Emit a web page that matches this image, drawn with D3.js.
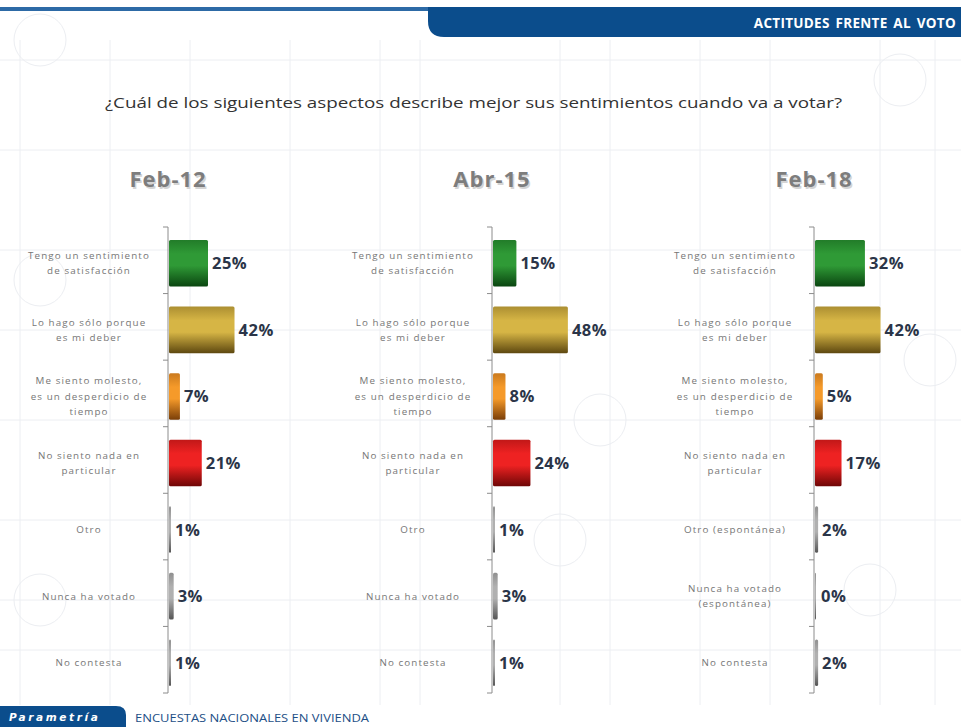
<!DOCTYPE html>
<html>
<head>
<meta charset="utf-8">
<script src="https://cdn.jsdelivr.net/npm/d3@7"></script>
<style>
  body { margin: 0; background: #fff; }
  svg { display: block; }
</style>
</head>
<body>
<svg width="961" height="727"></svg>
<script>
// chart data
const periods = ['Feb-12', 'Abr-15', 'Feb-18'];
const labelsA = [
  'Tengo un sentimiento|de satisfacción',
  'Lo hago sólo porque|es mi deber',
  'Me siento molesto,|es un desperdicio de|tiempo',
  'No siento nada en|particular',
  'Otro',
  'Nunca ha votado',
  'No contesta'
];
const labelsB = [
  'Tengo un sentimiento|de satisfacción',
  'Lo hago sólo porque|es mi deber',
  'Me siento molesto,|es un desperdicio de|tiempo',
  'No siento nada en|particular',
  'Otro (espontánea)',
  'Nunca ha votado|(espontánea)',
  'No contesta'
];
const feb12 = [25, 42, 7, 21, 1, 3, 1];
const abr15 = [15, 48, 8, 24, 1, 3, 1];
const feb18 = [32, 42, 5, 17, 2, 0, 2];

const panels = [
  { title: periods[0], labels: labelsA, values: feb12 },
  { title: periods[1], labels: labelsA, values: abr15 },
  { title: periods[2], labels: labelsB, values: feb18 }
];

// bar colours (light / dark pairs for the cylinder look)
const barColors = [
  ['#2f9a36', '#0a4510'],
  ['#d6b545', '#5e4810'],
  ['#f59a2a', '#7a3e08'],
  ['#ee2222', '#6e0606'],
  ['#b0b0b0', '#555555'],
  ['#b0b0b0', '#555555'],
  ['#b0b0b0', '#555555']
];

const svg = d3.select('svg');
const width = +svg.attr('width');
const height = +svg.attr('height');

// gradients
const defs = svg.append('defs');
barColors.forEach((c, i) => {
  const g = defs.append('linearGradient')
    .attr('id', 'grad' + i)
    .attr('x1', 0).attr('y1', 0).attr('x2', 0).attr('y2', 1);
  g.append('stop').attr('offset', '0%').attr('stop-color', d3.interpolateRgb(c[0], c[1])(0.35));
  g.append('stop').attr('offset', '30%').attr('stop-color', c[0]);
  g.append('stop').attr('offset', '55%').attr('stop-color', c[0]);
  g.append('stop').attr('offset', '100%').attr('stop-color', c[1]);
});

// faint watermark background
const bg = svg.append('g').attr('stroke', '#eceef2').attr('fill', 'none').attr('stroke-width', 1);
[20, 110, 190, 290, 380, 420, 560, 610, 700, 770, 880, 935].forEach(x => {
  bg.append('line').attr('x1', x).attr('x2', x).attr('y1', 40).attr('y2', 705);
});
[60, 150, 250, 330, 420, 520, 600, 650].forEach(y => {
  bg.append('line').attr('x1', 0).attr('x2', width).attr('y1', y).attr('y2', y);
});
[[40, 40], [900, 80], [40, 280], [930, 360], [870, 590], [40, 600], [560, 540], [600, 420]].forEach(p => {
  bg.append('circle').attr('cx', p[0]).attr('cy', p[1]).attr('r', 26);
});

// header
svg.append('rect').attr('x', 0).attr('y', 7).attr('width', 440).attr('height', 4).attr('fill', '#2d6aa6');
svg.append('path')
  .attr('d', 'M428,7 H961 V37 H444 Q428,37 428,21 Z')
  .attr('fill', '#0b4d8c');
svg.append('text')
  .text('ACTITUDES  FRENTE  AL VOTO')
  .attr('x', 956).attr('y', 28)
  .attr('text-anchor', 'end')
  .attr('fill', '#fff')
  .attr('font-family', 'Open Sans, sans-serif')
  .attr('font-weight', 'bold')
  .attr('font-size', 13.5)
  .style('letter-spacing', '0.3px')
  .style('word-spacing', '2px');

// question
svg.append('text')
  .text('¿Cuál de los siguientes aspectos describe mejor sus sentimientos cuando va a votar?')
  .attr('x', 105).attr('y', 108)
  .attr('fill', '#333')
  .attr('font-family', 'Open Sans, sans-serif')
  .attr('font-size', 15)
  .attr('textLength', 737)
  .attr('lengthAdjust', 'spacingAndGlyphs');

// scales
const axisTop = 227, axisBottom = 693;
const y = d3.scaleBand()
  .domain(d3.range(7))
  .range([axisTop, axisBottom])
  .paddingInner(0.3)
  .paddingOuter(0.15);
const x = d3.scaleLinear().domain([0, 50]).range([0, 78]);

const axisX = [168, 492, 814];

panels.forEach((p, pi) => {
  const g = svg.append('g').attr('transform', `translate(${axisX[pi]},0)`);

  // title with soft shadow
  [['#d4d4d4', 1.5, 1.5], ['#7d7d7d', 0, 0]].forEach(s => {
    g.append('text')
      .text(p.title)
      .attr('x', s[1]).attr('y', 187 + s[2])
      .attr('text-anchor', 'middle')
      .attr('fill', s[0])
      .attr('font-family', 'Open Sans, sans-serif')
      .attr('font-weight', 'bold')
      .attr('font-size', 22)
      .style('letter-spacing', '1px');
  });

  // axis line and ticks
  const step = (axisBottom - axisTop) / 7;
  g.append('line')
    .attr('x1', 0).attr('x2', 0)
    .attr('y1', axisTop).attr('y2', axisBottom)
    .attr('stroke', '#8c8c8c').attr('stroke-width', 1);
  g.selectAll('.tick').data(d3.range(8)).enter()
    .append('line')
    .attr('x1', -5).attr('x2', 0)
    .attr('y1', d => axisTop + d * step)
    .attr('y2', d => axisTop + d * step)
    .attr('stroke', '#8c8c8c');

  // bars
  g.selectAll('rect.bar').data(p.values).enter()
    .append('rect')
    .attr('class', 'bar')
    .attr('x', 1)
    .attr('y', (d, i) => y(i) + 3)
    .attr('width', d => Math.max(x(d), d === 0 ? 1 : 2))
    .attr('height', y.bandwidth())
    .attr('rx', 1.5)
    .attr('fill', (d, i) => `url(#grad${i})`);

  // value labels
  g.selectAll('text.val').data(p.values).enter()
    .append('text')
    .attr('class', 'val')
    .text(d => d + '%')
    .attr('x', d => Math.max(x(d), 2) + 5)
    .attr('y', (d, i) => y(i) + 3 + y.bandwidth() / 2)
    .attr('dy', '0.36em')
    .attr('fill', '#2b3548')
    .attr('font-family', 'Open Sans, sans-serif')
    .attr('font-weight', 'bold')
    .attr('font-size', 16.5)
    .style('letter-spacing', '0.5px');

  // category labels
  p.labels.forEach((lab, i) => {
    const lines = lab.split('|');
    const cy = y(i) + 3 + y.bandwidth() / 2;
    const lh = 15.5;
    const t = g.append('text')
      .attr('text-anchor', 'middle')
      .attr('fill', '#767676')
      .attr('font-family', 'Open Sans, sans-serif')
      .attr('font-size', 9.8)
      .style('letter-spacing', '1.1px');
    lines.forEach((ln, k) => {
      t.append('tspan')
        .text(ln)
        .attr('x', -79)
        .attr('y', cy + (k - (lines.length - 1) / 2) * lh)
        .attr('dy', '0.35em');
    });
  });
});

// footer
svg.append('path')
  .attr('d', 'M0,706 H116 Q126,706 126,715 V727 H0 Z')
  .attr('fill', '#0b4d8c');
svg.append('text')
  .text('Parametría')
  .attr('x', 9).attr('y', 721)
  .attr('fill', '#fff')
  .attr('font-family', 'DejaVu Sans, sans-serif')
  .attr('font-style', 'italic')
  .attr('font-weight', 'bold')
  .attr('font-size', 10.5)
  .style('letter-spacing', '2.6px');
svg.append('text')
  .text('ENCUESTAS  NACIONALES  EN  VIVIENDA')
  .attr('x', 135).attr('y', 722)
  .attr('fill', '#1d4f86')
  .attr('font-family', 'Open Sans, sans-serif')
  .attr('font-size', 10)
  .attr('textLength', 234)
  .attr('lengthAdjust', 'spacingAndGlyphs');
</script>
</body>
</html>
